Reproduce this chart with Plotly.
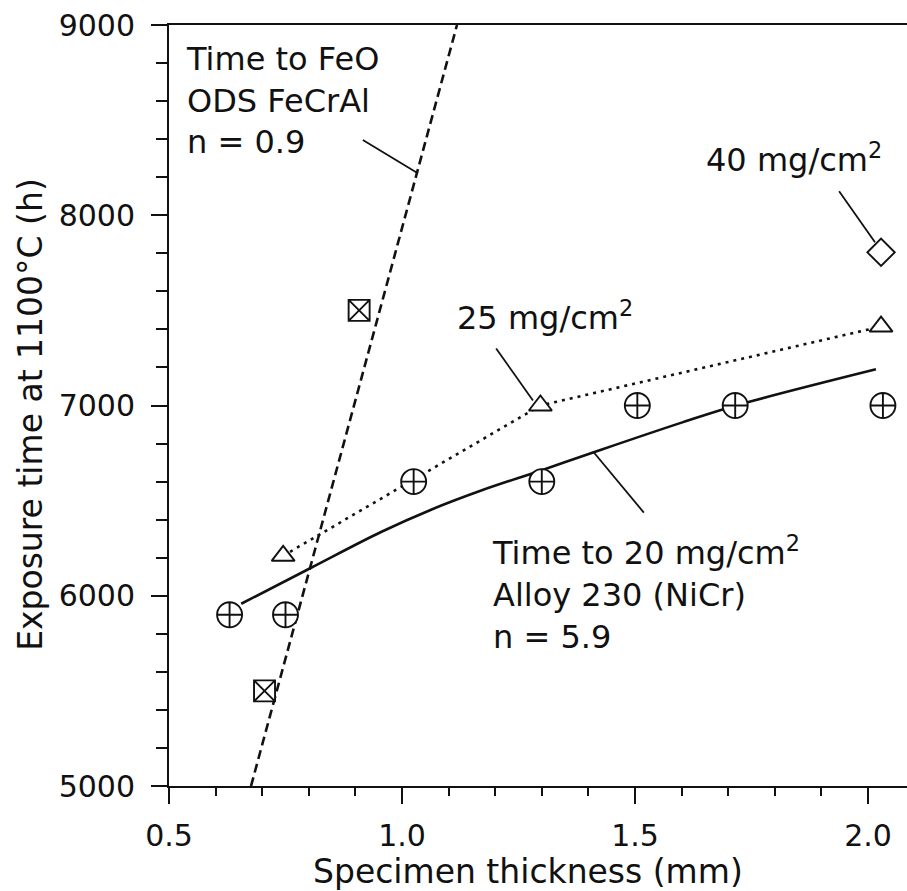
import plotly.graph_objects as go

# ---- data ----
circle_x = [0.63, 0.75, 1.025, 1.30, 1.505, 1.715, 2.032]
circle_y = [5900, 5900, 6600, 6600, 7000, 7000, 7000]

tri_x = [0.745, 1.297, 2.028]
tri_y = [6210, 7000, 7415]

diamond_x = [2.028]
diamond_y = [7805]

sqx_x = [0.705, 0.908]
sqx_y = [5500, 7500]

feo_x = [0.676, 1.118]
feo_y = [5000, 9000]

nicr_x = [0.655, 0.805, 0.955, 1.065, 1.17, 1.30, 1.41, 1.60, 1.717, 2.017]
nicr_y = [5958, 6147, 6335, 6455, 6553, 6660, 6753, 6910, 7000, 7190]

x_ticks = [0.5, 1.0, 1.5, 2.0]
x_ticklabels = ["0.5", "1.0", "1.5", "2.0"]
y_ticks = [5000, 6000, 7000, 8000, 9000]
y_ticklabels = ["5000", "6000", "7000", "8000", "9000"]

FONT = "DejaVu Sans"
INK = "#111111"

fig = go.Figure()

# FeCrAl dashed line
fig.add_trace(go.Scatter(x=feo_x, y=feo_y, mode="lines",
                         line=dict(color=INK, width=2.6, dash="9px,5px"),
                         hoverinfo="skip", showlegend=False))
# NiCr solid curve
fig.add_trace(go.Scatter(x=nicr_x, y=nicr_y, mode="lines",
                         line=dict(color=INK, width=2.6, shape="spline", smoothing=1.0),
                         hoverinfo="skip", showlegend=False))
# 25 mg/cm2 dotted line with triangles
fig.add_trace(go.Scatter(x=tri_x, y=tri_y, mode="lines",
                         line=dict(color=INK, width=2.6, dash="3px,5px"),
                         hoverinfo="skip", showlegend=False))
fig.add_trace(go.Scatter(x=tri_x, y=tri_y, mode="markers",
                         marker=dict(symbol="triangle-up", size=20, color="white",
                                     line=dict(color=INK, width=1.9)),
                         hoverinfo="skip", showlegend=False))
# circles with cross
fig.add_trace(go.Scatter(x=circle_x, y=circle_y, mode="markers",
                         marker=dict(symbol="circle-cross", size=25, color="white",
                                     line=dict(color=INK, width=1.9)),
                         hoverinfo="skip", showlegend=False))
# squares with x
fig.add_trace(go.Scatter(x=sqx_x, y=sqx_y, mode="markers",
                         marker=dict(symbol="square-x", size=21, color="white",
                                     line=dict(color=INK, width=1.9)),
                         hoverinfo="skip", showlegend=False))
# diamond
fig.add_trace(go.Scatter(x=diamond_x, y=diamond_y, mode="markers",
                         marker=dict(symbol="diamond", size=21, color="white",
                                     line=dict(color=INK, width=1.9)),
                         hoverinfo="skip", showlegend=False))

# leader lines
leaders = [
    (0.916, 8395, 1.034, 8221),
    (1.938, 8126, 2.015, 7858),
    (1.202, 7300, 1.281, 7026),
    (1.410, 6758, 1.519, 6437),
]
for x0, y0, x1, y1 in leaders:
    fig.add_shape(type="line", xref="x", yref="y", x0=x0, y0=y0, x1=x1, y1=y1,
                  line=dict(color=INK, width=1.8))

ann_font = dict(family=FONT, size=32, color=INK)
annotations = [
    dict(x=0.533, y=8605, text="Time to FeO<br>ODS FeCrAl<br>n = 0.9"),
    dict(x=1.649, y=8300, text="40 mg/cm<sup>2</sup>"),
    dict(x=1.114, y=7468, text="25 mg/cm<sup>2</sup>"),
    dict(x=1.189, y=6016, text="Time to 20 mg/cm<sup>2</sup><br>Alloy 230 (NiCr)<br>n = 5.9"),
]
for a in annotations:
    fig.add_annotation(xref="x", yref="y", showarrow=False, xanchor="left",
                       yanchor="middle", align="left", font=ann_font, **a)

# axis titles
fig.add_annotation(xref="paper", yref="paper", x=0.4865, y=-0.113,
                   text="Specimen thickness (mm)", showarrow=False,
                   xanchor="center", yanchor="middle",
                   font=dict(family=FONT, size=33, color=INK))
fig.add_annotation(xref="paper", yref="paper", x=-0.187, y=0.489,
                   text="Exposure time at 1100°C (h)", showarrow=False,
                   textangle=-90, xanchor="center", yanchor="middle",
                   font=dict(family=FONT, size=33, color=INK))

L, R, T, B = 169, 0, 25, 105
W, H = 907, 891
plot_w = W - L - R

fig.update_layout(
    width=W, height=H,
    margin=dict(l=L, r=R, t=T, b=B, pad=0),
    paper_bgcolor="white", plot_bgcolor="white",
    showlegend=False,
    font=dict(family=FONT, color=INK),
)
fig.update_xaxes(
    range=[0.5, 0.5 + plot_w / 466.0],
    tickvals=x_ticks, ticktext=x_ticklabels,
    ticks="outside", ticklen=16, tickwidth=2, tickcolor=INK,
    showline=True, linecolor=INK, linewidth=2, mirror=True,
    showgrid=False, zeroline=False,
    tickfont=dict(family=FONT, size=30, color=INK),
    ticklabelstandoff=6,
    minor=dict(dtick=0.1, tick0=0.5, ticks="outside", ticklen=8, tickwidth=2,
               tickcolor=INK, showgrid=False),
)
fig.update_yaxes(
    range=[5000, 9000],
    tickvals=y_ticks, ticktext=y_ticklabels,
    ticks="outside", ticklen=16, tickwidth=2, tickcolor=INK,
    showline=True, linecolor=INK, linewidth=2, mirror=False,
    showgrid=False, zeroline=False,
    tickfont=dict(family=FONT, size=30, color=INK),
    ticklabelstandoff=10,
    minor=dict(dtick=200, tick0=5000, ticks="outside", ticklen=11, tickwidth=2,
               tickcolor=INK, showgrid=False),
)

fig.write_html("out.html")
